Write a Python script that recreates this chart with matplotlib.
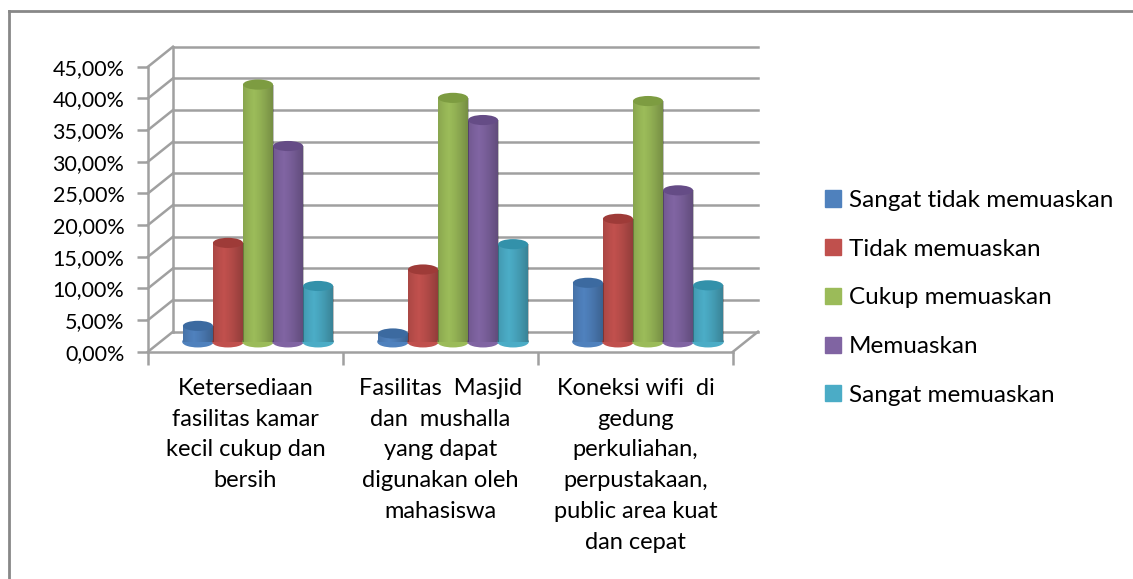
import numpy as np
import matplotlib.pyplot as plt
from matplotlib.patches import Ellipse, Patch
import matplotlib.transforms as mtransforms

plt.rcParams['font.family'] = ['Lato', 'DejaVu Sans']

# data
categories = ['Ketersediaan\nfasilitas kamar\nkecil cukup dan\nbersih',
              'Fasilitas  Masjid\ndan  mushalla\nyang dapat\ndigunakan oleh\nmahasiswa',
              'Koneksi wifi  di\ngedung\nperkuliahan,\nperpustakaan,\npublic area kuat\ndan cepat']
series = ['Sangat tidak memuaskan', 'Tidak memuaskan', 'Cukup memuaskan',
          'Memuaskan', 'Sangat memuaskan']
sangat_tidak = [2.5, 1.3, 9.3]
tidak = [15.6, 11.4, 19.4]
cukup = [40.6, 38.5, 38.0]
memuaskan = [30.9, 35.0, 23.9]
sangat = [8.8, 15.4, 8.9]
values = [sangat_tidak, tidak, cukup, memuaskan, sangat]
colors = ['#4F81BD', '#C0504D', '#9BBB59', '#8064A2', '#4BACC6']
tops = ['#3C6AA0', '#9E3B38', '#7D9C41', '#654C86', '#3391AA']
yticks = np.arange(0, 46, 5)

W, H = 1133, 579
fig = plt.figure(figsize=(W / 100, H / 100), dpi=100)
# front plane: x 148..733 px, y 351.7..66.7 px
ax = fig.add_axes([148 / W, (H - 351.7) / H, 585 / W, 285 / H])
ax.set_xlim(0, 3)
ax.set_ylim(0, 45)
for s in ax.spines.values():
    s.set_visible(False)

# depth offset of back wall and of the bar row
back = ax.transData + mtransforms.ScaledTranslation(0.25, 0.20, fig.dpi_scale_trans)
mid = ax.transData + mtransforms.ScaledTranslation(0.125, 0.10, fig.dpi_scale_trans)
gcol = '#A0A0A0'
lw = 1.8

for v in yticks:
    ax.plot([0, 3], [v, v], color=gcol, lw=lw, transform=back, clip_on=False, zorder=1)
ax.plot([0, 0], [0, 45], color=gcol, lw=lw, transform=back, clip_on=False, zorder=1)

# side wall diagonals
for v in yticks:
    xf, yf = ax.transData.transform((0, v))
    ax.add_line(plt.Line2D([xf, xf + 25], [yf, yf + 20], color=gcol, lw=lw,
                           transform=None, clip_on=False, zorder=1))
xr, yr = ax.transData.transform((3, 0))
ax.add_line(plt.Line2D([xr, xr + 25], [yr, yr + 20], color=gcol, lw=lw,
                       transform=None, clip_on=False, zorder=1))
ax.plot([0, 3], [0, 0], color=gcol, lw=lw, clip_on=False, zorder=6)
ax.plot([0, 0], [0, 45], color=gcol, lw=lw, clip_on=False, zorder=6)

# bars as cylinders
x = np.arange(len(categories)) + 0.5
w = 0.154
eh = 1.6
for i, (vals, c, tc) in enumerate(zip(values, colors, tops)):
    xs = x + (i - 2) * w
    bars = ax.bar(xs, vals, w, color=c, transform=mid, clip_on=False, zorder=3)
    for xx, vv, b in zip(xs, vals, bars):
        ax.add_patch(Ellipse((xx, 0), w, eh, color=c, transform=mid, clip_on=False, zorder=3))
        grad = np.linspace(0, 1, 50)
        shade = np.zeros((1, 50, 4))
        shade[0, :, 3] = 0.45 * np.abs(grad - 0.35) ** 1.3
        im = ax.imshow(shade, extent=[xx - w / 2, xx + w / 2, -eh / 2, vv], aspect='auto',
                       transform=mid, zorder=3.5, interpolation='bilinear')
        im.set_clip_path(b)
        ax.add_patch(Ellipse((xx, vv), w, eh, facecolor=tc, edgecolor='none',
                             transform=mid, clip_on=False, zorder=4))
ax.set_xlim(0, 3)
ax.set_ylim(0, 45)

ax.set_yticks(yticks, [f'{v},00%' for v in yticks])
ax.tick_params(axis='y', length=8, width=1.8, color=gcol, labelsize=15.5, pad=9)
ax.set_xticks(x, categories)
ax.tick_params(axis='x', which='major', length=0, labelsize=17, pad=19)
for t in ax.get_xticklabels():
    t.set_linespacing(1.57)
    t.set_verticalalignment('top')
ax.set_xticks([0, 1, 2, 3], minor=True)
ax.tick_params(axis='x', which='minor', length=9, width=1.8, color=gcol)

handles = [Patch(color=c) for c in colors]
fig.legend(handles, series, loc='center left', bbox_to_anchor=(803 / W, (H - 298) / H),
           frameon=False, fontsize=17.5, handlelength=0.65, handleheight=0.65,
           handletextpad=0.35, labelspacing=1.14)

fig.add_artist(plt.Line2D([8.5 / W, 8.5 / W], [0, (H - 11) / H], color='#888888', lw=2))
fig.add_artist(plt.Line2D([8.5 / W, 1], [(H - 11) / H, (H - 11) / H], color='#888888', lw=2))

fig.savefig('out.png', dpi=100)
